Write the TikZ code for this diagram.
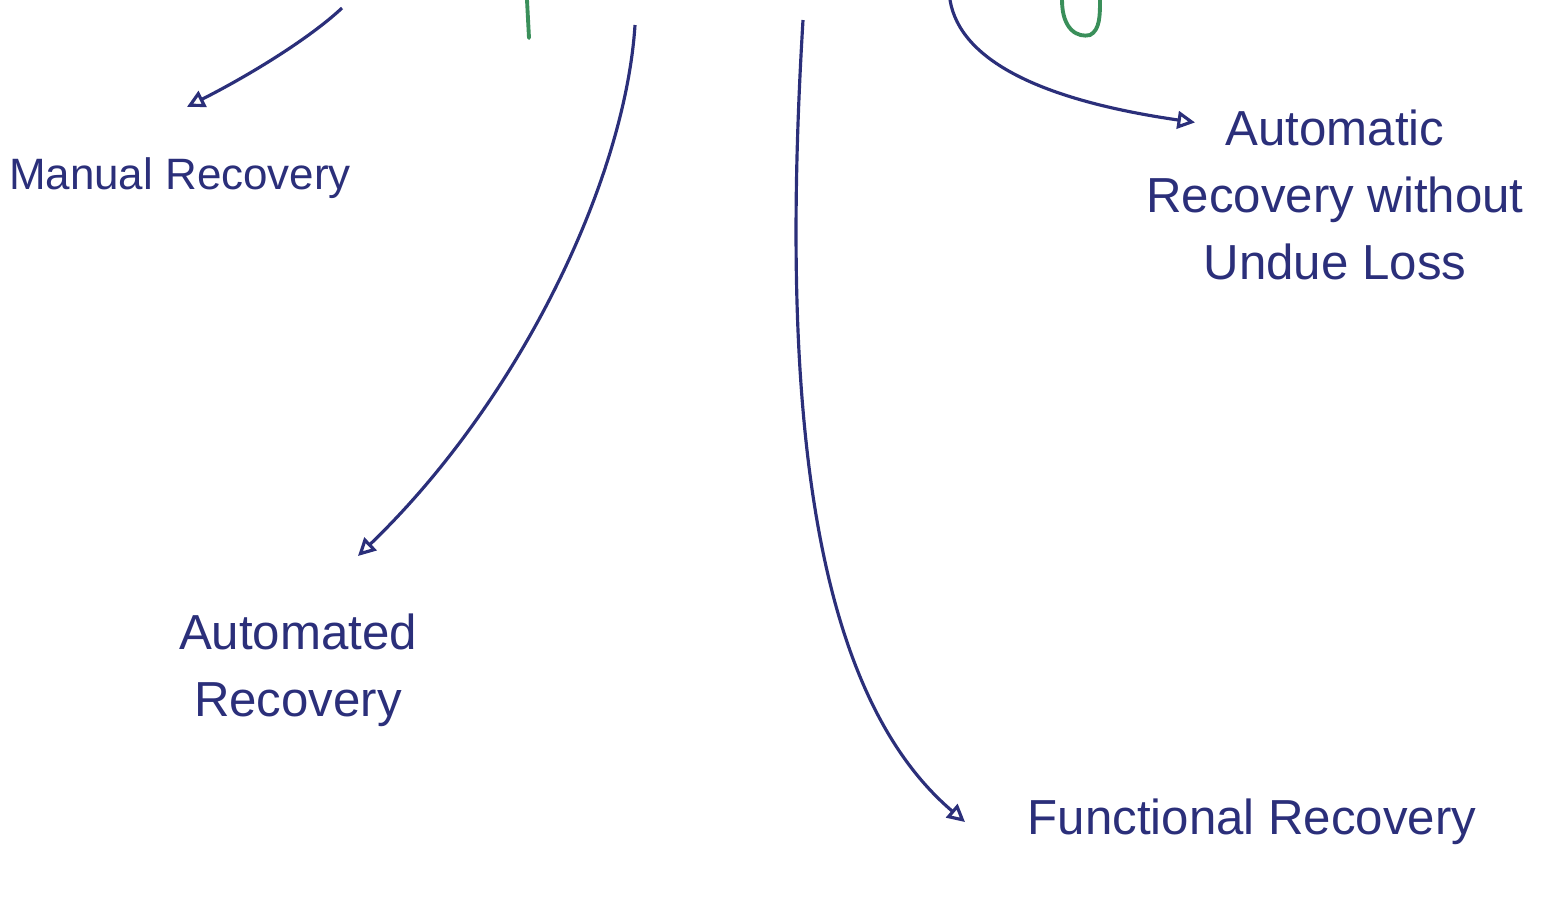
\documentclass[tikz,border=0pt]{standalone}
\usepackage{fontspec}
\setmainfont{Liberation Sans}
\usetikzlibrary{arrows.meta,calc}
\definecolor{ink}{HTML}{2B2F7A}
\definecolor{greenink}{HTML}{3A8F5A}
\tikzset{
  label/.style={text=ink, font=\fontsize{14}{19}\selectfont, align=center, inner sep=2pt},
  conn/.style={draw=ink, line width=0.9pt, -{Triangle[open,length=5pt,width=5pt]}},
  greenstroke/.style={draw=greenink, line width=1.1pt, line cap=round}
}
\begin{document}
\begin{tikzpicture}
\useasboundingbox (0,0) rectangle (15.62,-9.05);
% labels
\node[label, font=\fontsize{12.5}{16}\selectfont] (manual) at (1.8,-1.78) {Manual Recovery};
\node[label] (automated) at (2.98,-6.7) {Automated\\Recovery};
\node[label] (automatic) at (13.35,-1.95) {Automatic\\Recovery without\\Undue Loss};
\node[label] (functional) at (12.52,-8.22) {Functional Recovery};
% free ends at the top edge
\coordinate (s1) at (3.42,-0.08);
\coordinate (s2) at (6.35,-0.25);
\coordinate (s3) at (8.03,-0.2);
\coordinate (s4) at (9.5,0);
% connectors
\draw[conn] (s1) .. controls (3.1,-0.38) and (2.5,-0.75) .. ($(manual.north)+(0.07,0.43)$);
\draw[conn] (s2) .. controls (6.25,-1.8) and (5.2,-4.0) .. ($(automated.north)+(0.6,0.5)$);
\draw[conn] (s3) .. controls (7.8,-4.0) and (8.1,-6.9) .. ($(functional.west)+(-0.55,0.0)$);
\draw[conn] (s4) .. controls (9.6,-0.6) and (10.4,-1.0) .. ($(automatic.north)+(-1.4,-0.2)$);
% green strokes at the top edge
\draw[greenstroke] (5.27,0) -- (5.29,-0.38);
\draw[greenstroke] (10.62,0) .. controls (10.62,-0.3) and (10.78,-0.38) .. (10.9,-0.35)
  .. controls (11.0,-0.3) and (11.0,-0.15) .. (11.0,0);
\end{tikzpicture}
\end{document}
